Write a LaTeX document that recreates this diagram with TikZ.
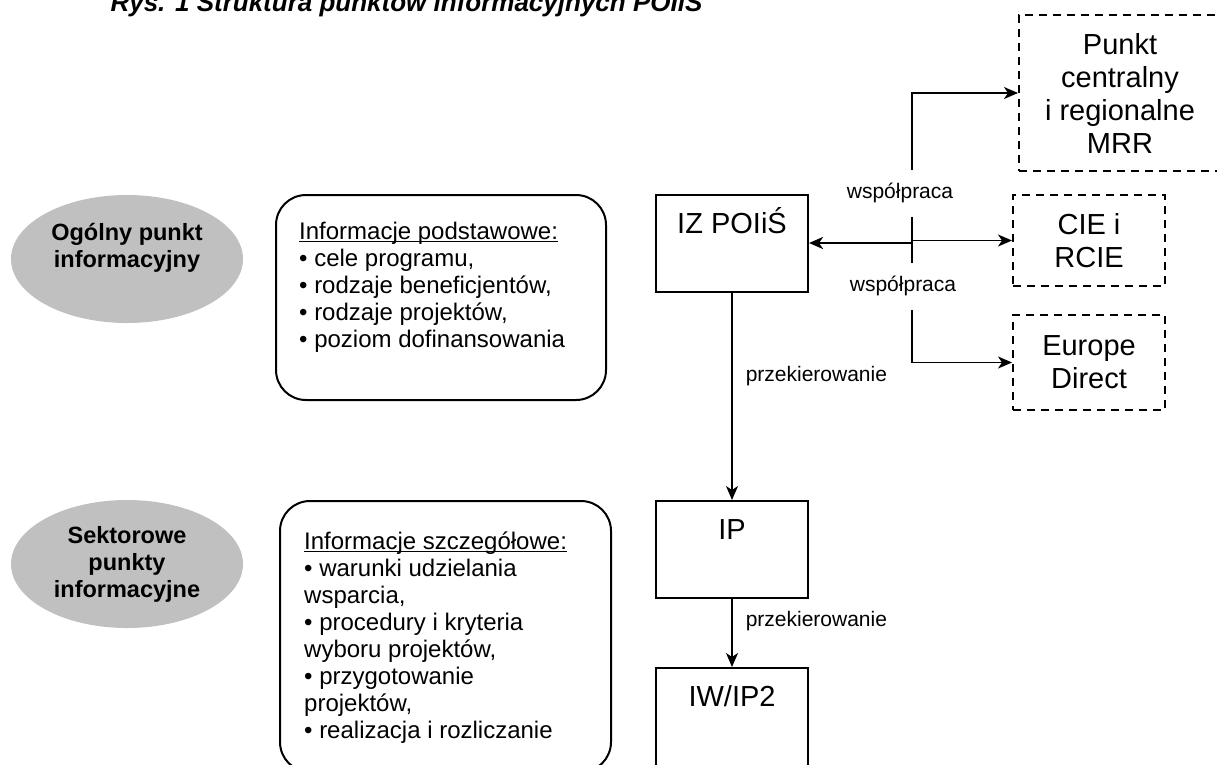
\documentclass[tikz,border=0pt]{standalone}
\usepackage{fontspec}
\setmainfont{Liberation Sans}
\usetikzlibrary{arrows.meta,scopes,shapes.geometric,positioning}
\definecolor{pointGray}{RGB}{192,192,192}
\newcommand{\pxfont}[2]{\fontsize{#1}{#2}\selectfont}

\begin{document}
\begin{tikzpicture}[x=1pt, y=1pt,
    arr/.style={line width=1.5pt, -{Stealth[length=14pt, width=12pt, inset=4pt]}},
    note/.style={font=\pxfont{21}{24}}]
    \useasboundingbox (0,0) rectangle (1217,-764);
    \node[anchor=base west, font=\pxfont{26}{30}\bfseries\itshape] (title) at (107,-11) {Rys. 1 Struktura punktów informacyjnych POIiŚ};
    {[every node/.style={ellipse, fill=pointGray, inner sep=0pt, minimum width=232pt, minimum height=128pt, align=center, font=\pxfont{23.5}{27}\bfseries}]
    \node (OPI) at (127,-259) {Ogólny punkt\\informacyjny\\\mbox{}};
    \node (SPI) at (127,-564) {Sektorowe\\punkty\\informacyjne};
    }
    {[every node/.style={draw, line width=2pt, rounded corners=30pt}]
    \node[minimum width=330pt, minimum height=205pt] (basic) at (441,-297.5) {};
    \node[minimum width=331pt, minimum height=271pt] (detail) at (445.5,-636.5) {};
    }
    {[every node/.style={align=left, inner sep=0pt, font=\pxfont{24}{27}}]
    \node[below right=45.5pt and 24pt of basic.north west] (basic-text) {\underline{\smash{Informacje podstawowe:}}\\• cele programu,\\• rodzaje beneficjentów,\\• rodzaje projektów,\\• poziom dofinansowania};
    \node[below right=49.5pt and 25pt of detail.north west] (detail-text) {\underline{\smash{Informacje szczegółowe:}}\\• warunki udzielania\\wsparcia,\\• procedury i kryteria\\wyboru projektów,\\• przygotowanie\\projektów,\\• realizacja i rozliczanie};
    }
    {[every node/.style={draw, line width=2pt, minimum width=152pt, inner xsep=0pt, inner ysep=18pt, text height=20pt, text depth=41pt, font=\pxfont{29}{33}}]
    \node (IZ) at (732,-243.5) {IZ POIiŚ};
    \node (IP) at (732,-549.5) {IP};
    \node[text depth=46pt] (IW) at (732,-719) {IW/IP2};
    }
    {[every node/.style={draw, dash pattern=on 8pt off 6pt, line width=2pt, align=center, font=\pxfont{29}{33}}]
    \node[minimum width=202pt, minimum height=156pt] (MRR) at (1120,-93) {Punkt\\centralny\\i regionalne\\MRR};
    \node[minimum width=152pt, minimum height=91pt] (CIE) at (1089,-240.5) {CIE i\\RCIE};
    \node[minimum width=152pt, minimum height=95pt] (ED) at (1089,-362.5) {Europe\\Direct};
    }
    \coordinate (hub) at (912,-243);
    {[arr]
    \draw (IZ) -- (IP) node[note, pos=0.4, right=10pt, inner sep=3pt] (redir-IP) {przekierowanie};
    \draw (IP) -- (IW) node[note, pos=0.32, right=10pt, inner sep=3pt] (redir-IW) {przekierowanie};
    \draw[line width=2.5pt] (hub) -- (IZ.east |- hub);
    \draw (hub) |- (CIE.west);
    \draw (hub) |- (MRR.west);
    \draw (hub) |- (ED.west);
    }
    {[every node/.style={note, fill=white, minimum height=47pt, inner xsep=4pt}]
    \node (coop-up) at (900,-193) {współpraca};
    \node (coop-down) at (903,-286) {współpraca};
    }
\end{tikzpicture}
\end{document}
